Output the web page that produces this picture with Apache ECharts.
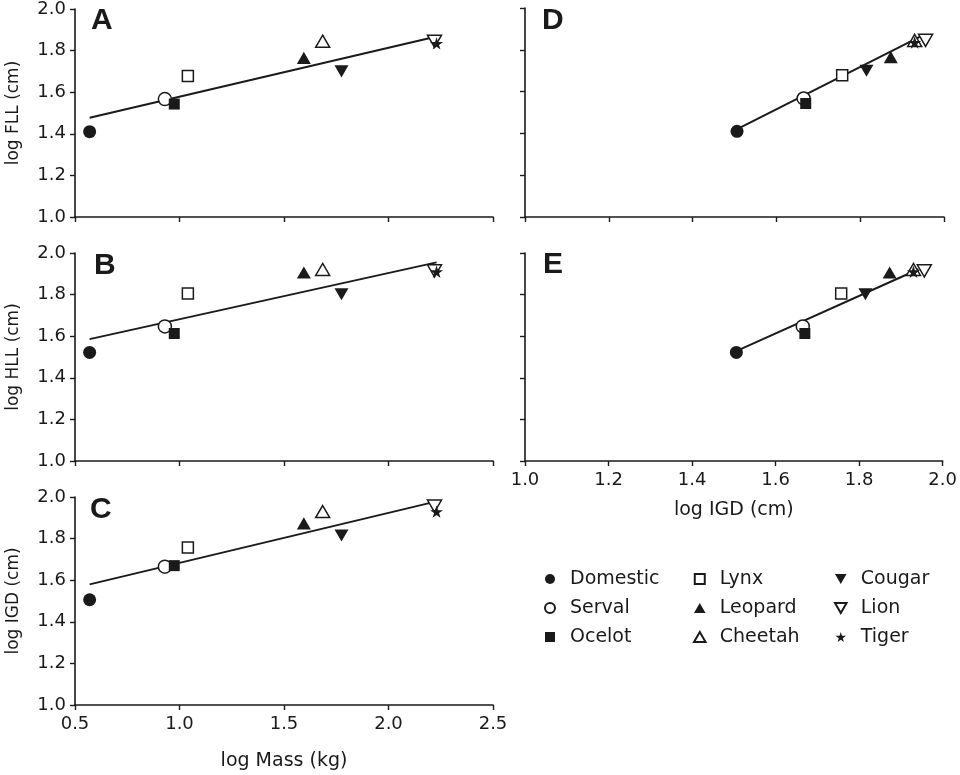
<!DOCTYPE html>
<html>
<head>
<meta charset="utf-8">
<script src="https://cdn.jsdelivr.net/npm/echarts@6/dist/echarts.min.js"></script>
<style>
html,body{margin:0;padding:0;background:#fff;}
#chart{width:960px;height:775px;}
</style>
</head>
<body>
<div id="chart"></div>
<script>
// ---- data ----
const species = ['Domestic', 'Serval', 'Ocelot', 'Lynx', 'Leopard', 'Cheetah', 'Cougar', 'Lion', 'Tiger'];
const logMass = [0.57, 0.93, 0.975, 1.04, 1.595, 1.685, 1.775, 2.22, 2.23];
const logFLL  = [1.41, 1.567, 1.543, 1.678, 1.765, 1.845, 1.70, 1.845, 1.835];
const logHLL  = [1.522, 1.647, 1.613, 1.805, 1.906, 1.921, 1.802, 1.914, 1.91];
const logIGD  = [1.506, 1.665, 1.67, 1.757, 1.873, 1.93, 1.815, 1.956, 1.93];
// regression line end points per panel
const fitA = [[0.57, 1.477], [2.23, 1.868]];
const fitB = [[0.57, 1.586], [2.23, 1.955]];
const fitC = [[0.57, 1.580], [2.23, 1.979]];
const fitD = [[1.511, 1.425], [1.942, 1.862]];
const fitE = [[1.511, 1.533], [1.942, 1.922]];
const panelLetters = ['A', 'B', 'C', 'D', 'E'];
const massTicks = [0.5, 1.0, 1.5, 2.0, 2.5];
const igdTicks = [1.0, 1.2, 1.4, 1.6, 1.8, 2.0];
const yTicks = [1.0, 1.2, 1.4, 1.6, 1.8, 2.0];

// ---- styles ----
const FONT = '"DejaVu Sans", "Liberation Sans", Arial, sans-serif';
const BOLD_FONT = '"Liberation Sans", Arial, sans-serif';
const INK = '#1a1a1a';
const SQUARE = 'path://M0,0L10,0L10,10L0,10Z';
const UP_TRI = 'path://M10,0L20,17.3L0,17.3Z';
const DOWN_TRI = 'path://M0,0L20,0L10,17.3Z';
const STAR = 'path://M50,0L61,35L98,35L68,57L79,91L50,70L21,91L32,57L2,35L39,35Z';
const markerStyle = {
  Domestic: {symbol: 'circle', size: 13, fill: INK},
  Serval:   {symbol: 'circle', size: 13, fill: '#fff'},
  Ocelot:   {symbol: SQUARE, size: 11, fill: INK},
  Lynx:     {symbol: SQUARE, size: 11, fill: '#fff'},
  Leopard:  {symbol: UP_TRI, size: 14, fill: INK},
  Cheetah:  {symbol: UP_TRI, size: 14, fill: '#fff'},
  Cougar:   {symbol: DOWN_TRI, size: 14, fill: INK},
  Lion:     {symbol: DOWN_TRI, size: 14, fill: '#fff'},
  Tiger:    {symbol: STAR, size: 13, fill: INK}
};

const grids = [
  {left: 75, top: 8, width: 418, height: 209},
  {left: 75, top: 253, width: 418, height: 208},
  {left: 75, top: 497, width: 418, height: 208},
  {left: 525, top: 8, width: 419, height: 209},
  {left: 525, top: 253, width: 419, height: 208}
];

const axisLine = {show: true, lineStyle: {color: INK, width: 1.6}};
const axisTick = {show: true, inside: false, length: 5, lineStyle: {color: INK, width: 1.4}};
const labelStyle = {color: INK, fontSize: 18, fontFamily: FONT};
const xNameStyle = {color: INK, fontSize: 19, fontFamily: FONT};
const yNameStyle = {color: INK, fontSize: 17, fontFamily: FONT};

function xAxis(gi, ticks, showLabel, name, gap) {
  return {
    type: 'value', gridIndex: gi,
    min: ticks[0], max: ticks[ticks.length - 1],
    interval: +(ticks[1] - ticks[0]).toFixed(3),
    axisLine, axisTick, splitLine: {show: false},
    axisLabel: Object.assign({show: showLabel, margin: 10, formatter: v => v.toFixed(1)}, labelStyle),
    name: name || '', nameLocation: 'middle', nameGap: gap || 0, nameTextStyle: xNameStyle
  };
}
function yAxis(gi, showLabel, name) {
  return {
    type: 'value', gridIndex: gi,
    min: yTicks[0], max: yTicks[yTicks.length - 1], interval: 0.2,
    axisLine, axisTick, splitLine: {show: false},
    axisLabel: Object.assign({show: showLabel, margin: 9, formatter: v => v.toFixed(1)}, labelStyle),
    name: name || '', nameLocation: 'middle', nameGap: 53, nameRotate: 90, nameTextStyle: yNameStyle
  };
}

const xAxes = [
  xAxis(0, massTicks, false),
  xAxis(1, massTicks, false),
  xAxis(2, massTicks, true, 'log Mass (kg)', 47),
  xAxis(3, igdTicks, false),
  xAxis(4, igdTicks, true, 'log IGD (cm)', 40)
];
const yAxes = [
  yAxis(0, true, 'log FLL (cm)'),
  yAxis(1, true, 'log HLL (cm)'),
  yAxis(2, true, 'log IGD (cm)'),
  yAxis(3, false),
  yAxis(4, false)
];

// panel definitions: x array, y array, fit line
const panels = [
  {x: logMass, y: logFLL, fit: fitA},
  {x: logMass, y: logHLL, fit: fitB},
  {x: logMass, y: logIGD, fit: fitC},
  {x: logIGD, y: logFLL, fit: fitD},
  {x: logIGD, y: logHLL, fit: fitE}
];

const series = [];
panels.forEach((p, gi) => {
  series.push({
    type: 'line', name: 'fit' + panelLetters[gi], xAxisIndex: gi, yAxisIndex: gi,
    data: p.fit, symbol: 'none', silent: true, z: 1,
    lineStyle: {color: INK, width: 2}, animation: false
  });
  species.forEach((sp, i) => {
    const m = markerStyle[sp];
    series.push({
      type: 'scatter', name: sp, xAxisIndex: gi, yAxisIndex: gi,
      data: [[p.x[i], p.y[i]]],
      symbol: m.symbol, symbolSize: m.size, symbolKeepAspect: true, z: 3,
      itemStyle: {color: m.fill, borderColor: INK, borderWidth: m.fill === '#fff' ? 1.5 : 0, opacity: 1},
      animation: false
    });
  });
});

const legendText = {fontSize: 19, lineHeight: 20, color: INK, fontFamily: FONT};
function legend(names, left) {
  return {
    data: names, left: left, top: 569, orient: 'vertical',
    itemWidth: 30, itemHeight: 10, itemGap: 9, selectedMode: false,
    symbolKeepAspect: true,
    textStyle: legendText, padding: 0
  };
}

const titles = [
  {text: 'A', left: 91, top: 6},
  {text: 'B', left: 94, top: 251},
  {text: 'C', left: 90, top: 495},
  {text: 'D', left: 542, top: 6},
  {text: 'E', left: 543, top: 250}
].map(t => Object.assign(t, {padding: 0, textStyle: {fontSize: 30, fontWeight: 'bold', color: INK, fontFamily: BOLD_FONT}}));

const chart = echarts.init(document.getElementById('chart'), null, {renderer: 'canvas'});
chart.setOption({
  backgroundColor: '#fff',
  animation: false,
  title: titles,
  grid: grids,
  xAxis: xAxes,
  yAxis: yAxes,
  legend: [
    legend(species.slice(0, 3), 544),
    legend(species.slice(3, 6), 693),
    legend(species.slice(6, 9), 834)
  ],
  series: series
});
</script>
</body>
</html>
